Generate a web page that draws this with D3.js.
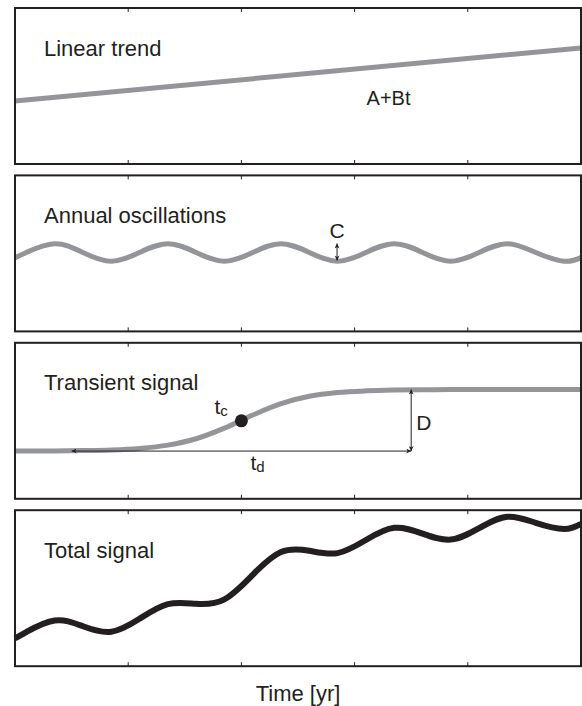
<!DOCTYPE html>
<html>
<head>
<meta charset="utf-8">
<script src="https://cdn.jsdelivr.net/npm/d3@7"></script>
<style>
  body { margin: 0; background: #fff; }
  text { font-family: "Liberation Sans", Arial, sans-serif; fill: #231f20; }
</style>
</head>
<body>
<svg id="chart"></svg>
<script>
// Sample times (years) and the curves (panel units 0..10)
const years = [0, 0.1, 0.35, 0.6, 0.85, 1.1, 1.35, 1.6, 1.85, 2.1, 2.35, 2.6, 2.85, 3.1, 3.35, 3.6, 3.85, 4.1, 4.35, 4.6, 4.85, 5.0];
const trendYears = [0, 5];
const trendVals = [4.04, 7.44];
const annualVals = [4.73, 5.06, 5.62, 5.06, 4.50, 5.06, 5.62, 5.06, 4.50, 5.06, 5.62, 5.06, 4.50, 5.06, 5.62, 5.06, 4.50, 5.06, 5.62, 5.06, 4.50, 4.73];
const transientVals = [3.06, 3.06, 3.07, 3.09, 3.13, 3.23, 3.44, 3.85, 4.53, 5.37, 6.10, 6.57, 6.81, 6.92, 6.97, 6.99, 7.00, 7.00, 7.00, 7.00, 7.00, 7.00];
const totalVals = [1.79, 2.19, 2.93, 2.56, 2.21, 3.04, 3.98, 4.00, 4.29, 5.86, 7.32, 7.40, 7.25, 8.09, 8.87, 8.50, 8.12, 8.85, 9.58, 9.19, 8.80, 9.13];
const xTicks = [0, 1, 2, 3, 4, 5];
const panelTitles = ["Linear trend", "Annual oscillations", "Transient signal", "Total signal"];

// Annotation values
const tc = 2.0, tcVal = 5.0;
const tdStart = 0.5, tdEnd = 3.5;
const transLow = 3.06, transHigh = 7.0;
const cTime = 2.845, cLow = 4.55, cHigh = 5.64;
const trendLabelTime = 3.3, trendLabelVal = 3.8;

const W = 582, H = 706;
const left = 15, right = 581;
const panelH = 156, panelStep = 167.4, firstTop = 8;

const svg = d3.select("#chart").attr("width", W).attr("height", H);

// arrowhead markers
const defs = svg.append("defs");
defs.append("marker")
    .attr("id", "arrow")
    .attr("viewBox", "0 0 10 10")
    .attr("refX", 10).attr("refY", 5)
    .attr("markerWidth", 7).attr("markerHeight", 5)
    .attr("markerUnits", "userSpaceOnUse")
    .attr("orient", "auto-start-reverse")
    .append("path")
    .attr("d", "M0,0 L10,5 L0,10 L3,5 Z")
    .attr("fill", "#231f20");

const x = d3.scaleLinear().domain([0, 5]).range([left, right]);

const panels = panelTitles.map((title, i) => {
    const top = firstTop + i * panelStep;
    const y = d3.scaleLinear().domain([0, 10]).range([top + panelH, top]);
    const g = svg.append("g");

    // ticks top and bottom, inward
    g.selectAll(".tick-top")
        .data(xTicks.slice(1, -1))
        .enter().append("line")
        .attr("x1", d => x(d)).attr("x2", d => x(d))
        .attr("y1", top).attr("y2", top + 4)
        .attr("stroke", "#231f20").attr("stroke-width", 1);
    g.selectAll(".tick-bottom")
        .data(xTicks.slice(1, -1))
        .enter().append("line")
        .attr("x1", d => x(d)).attr("x2", d => x(d))
        .attr("y1", top + panelH).attr("y2", top + panelH - 4)
        .attr("stroke", "#231f20").attr("stroke-width", 1);

    g.append("text")
        .attr("x", 44)
        .attr("y", top + 47.5)
        .style("font-size", "22px")
        .text(title);

    return { g, y, top };
});

const lineGrey = "#939598";

function drawLine(panel, xs, vals, curve, color, width) {
    const line = d3.line()
        .x(d => x(d[0]))
        .y(d => panel.y(d[1]))
        .curve(curve);
    panel.g.append("path")
        .datum(xs.map((t, k) => [t, vals[k]]))
        .attr("d", line)
        .attr("fill", "none")
        .attr("stroke", color)
        .attr("stroke-width", width);
}

// Panel 1: linear trend
drawLine(panels[0], trendYears, trendVals, d3.curveLinear, lineGrey, 5);
panels[0].g.append("text")
    .attr("x", x(trendLabelTime))
    .attr("y", panels[0].y(trendLabelVal))
    .attr("text-anchor", "middle")
    .style("font-size", "20px")
    .text("A+Bt");

// Panel 2: annual oscillations
drawLine(panels[1], years, annualVals, d3.curveNatural, lineGrey, 5);
panels[1].g.append("line")
    .attr("x1", x(cTime)).attr("x2", x(cTime))
    .attr("y1", panels[1].y(cLow)).attr("y2", panels[1].y(cHigh))
    .attr("stroke", "#231f20").attr("stroke-width", 1)
    .attr("marker-start", "url(#arrow)")
    .attr("marker-end", "url(#arrow)");
panels[1].g.append("text")
    .attr("x", x(cTime))
    .attr("y", panels[1].y(cHigh) - 5)
    .attr("text-anchor", "middle")
    .style("font-size", "21px")
    .text("C");

// Panel 3: transient signal
const p3 = panels[2];
drawLine(p3, years, transientVals, d3.curveMonotoneX, lineGrey, 5);
p3.g.append("line")
    .attr("x1", x(tdStart)).attr("x2", x(tdEnd))
    .attr("y1", p3.y(transLow)).attr("y2", p3.y(transLow))
    .attr("stroke", "#231f20").attr("stroke-width", 1)
    .attr("marker-start", "url(#arrow)")
    .attr("marker-end", "url(#arrow)");
p3.g.append("line")
    .attr("x1", x(tdEnd)).attr("x2", x(tdEnd))
    .attr("y1", p3.y(transLow)).attr("y2", p3.y(transHigh))
    .attr("stroke", "#231f20").attr("stroke-width", 1)
    .attr("marker-start", "url(#arrow)")
    .attr("marker-end", "url(#arrow)");
p3.g.append("circle")
    .attr("cx", x(tc)).attr("cy", p3.y(tcVal))
    .attr("r", 6.5)
    .attr("fill", "#231f20");

const tcLabel = p3.g.append("text")
    .attr("x", x(tc) - 27)
    .attr("y", p3.y(tcVal) - 7)
    .style("font-size", "21px");
tcLabel.append("tspan").text("t");
tcLabel.append("tspan").attr("dy", 2).style("font-size", "15px").text("c");

const tdLabel = p3.g.append("text")
    .attr("x", x((tdStart + tdEnd) / 2) + 9)
    .attr("y", p3.y(transLow) + 19)
    .style("font-size", "21px");
tdLabel.append("tspan").text("t");
tdLabel.append("tspan").attr("dy", 2).style("font-size", "15px").text("d");

p3.g.append("text")
    .attr("x", x(tdEnd) + 5)
    .attr("y", p3.y((transLow + transHigh) / 2) + 10)
    .style("font-size", "21px")
    .text("D");

// Panel 4: total signal
drawLine(panels[3], years, totalVals, d3.curveNatural, "#231f20", 6);

// frames on top
panels.forEach(p => {
    p.g.append("rect")
        .attr("x", left).attr("y", p.top)
        .attr("width", right - left).attr("height", panelH)
        .attr("fill", "none")
        .attr("stroke", "#231f20")
        .attr("stroke-width", 2);
});

svg.append("text")
    .attr("x", (left + right) / 2)
    .attr("y", 701)
    .attr("text-anchor", "middle")
    .style("font-size", "22px")
    .text("Time [yr]");
</script>
</body>
</html>
